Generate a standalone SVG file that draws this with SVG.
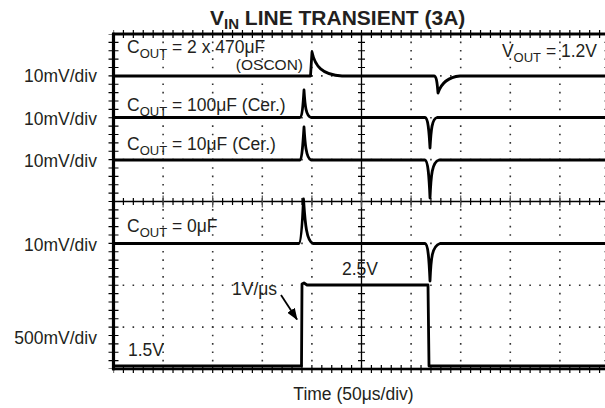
<svg xmlns="http://www.w3.org/2000/svg" width="605" height="408" viewBox="0 0 605 408">
<defs>
<style>
text{font-family:"Liberation Sans",Arial,sans-serif;fill:#231f20;font-size:17.5px}
.title{font-weight:bold;font-size:21px}
.sub{font-size:13px}
.tsub{font-size:15px}
.small{font-size:15.5px}
.frame{fill:none;stroke:#000;stroke-width:2.6}
.border{fill:none;stroke:#000}
.axis{stroke:#000;stroke-width:1.3;fill:none}
.vdot{stroke:#333;stroke-width:1.6;stroke-dasharray:1.6 6.775;stroke-dashoffset:0.8;fill:none}
.hdot{stroke:#333;stroke-width:1.6;stroke-dasharray:1.6 8.32;stroke-dashoffset:0.8;fill:none}
.vtick{stroke:#000;stroke-dasharray:1.2 7.175;stroke-dashoffset:0.6;fill:none}
.htick{stroke:#000;stroke-dasharray:1.2 8.72;stroke-dashoffset:0.6;fill:none}
.trace{fill:none;stroke:#000;stroke-width:2.8;stroke-linejoin:round;stroke-linecap:round}
.arrow{stroke:#000;stroke-width:1.8;fill:none}
</style>
<marker id="ah" viewBox="0 0 12 9" refX="11" refY="4.5" markerWidth="12" markerHeight="9" markerUnits="userSpaceOnUse" orient="auto">
<path d="M0,0 L12,4.5 L0,9 Z" fill="#000"/>
</marker>
</defs>
<rect width="605" height="408" fill="#fff"/>

<g id="title">
<text class="title" x="210" y="25">V<tspan class="tsub" dy="4">IN</tspan><tspan dy="-4"> LINE TRANSIENT (3A)</tspan></text>
</g>

<g id="grid">
<path class="vdot" d="M163.1,34V369M212.7,34V369M262.3,34V369M311.9,34V369M411.1,34V369M460.7,34V369M510.3,34V369M559.9,34V369"/>
<path class="hdot" d="M113.5,75.9H609.5M113.5,117.75H609.5M113.5,159.6H609.5M113.5,243.4H609.5M113.5,285.25H609.5M113.5,327.1H609.5"/>
<path class="axis" d="M361.5,34V369M113.5,201.5H609.5"/>
<path class="vtick" stroke-width="7" d="M361.5,34V369"/>
<path class="htick" stroke-width="7" d="M113.5,201.5H609.5"/>
<path stroke="#555" stroke-width="12" stroke-dasharray="1.2 48.4" stroke-dashoffset="0.6" fill="none" d="M113.5,201.5H609.5"/>
<path class="vtick" stroke-width="10" d="M113.5,34V369"/>
<path class="htick" stroke-width="8" d="M113.5,34H609.5"/>
<path class="htick" stroke-width="8" d="M113.5,369H609.5"/>
<path class="vtick" stroke-width="10" d="M609.5,34V369"/>
<rect class="frame" x="113.5" y="34" width="496" height="335"/>
<path class="border" stroke-width="2.4" d="M112.5,34H606"/>
<path class="border" stroke-width="3.2" d="M113.5,32.7V370.3"/>
</g>

<g id="scale-labels" text-anchor="end">
<text x="97" y="82">10mV/div</text>
<text x="97" y="125">10mV/div</text>
<text x="97" y="167">10mV/div</text>
<text x="97" y="251">10mV/div</text>
<text x="97" y="344">500mV/div</text>
</g>

<g id="trace-oscon">
<path class="trace" d="M113.5,76 H310.5 L312,52 C315,66 322,75 342,76 H434 C436,76 437,80 438,93 C441,84 448,77 460,76 H612"/>
<text x="127" y="53">C<tspan class="sub" dy="5">OUT</tspan><tspan dy="-5"> = 2 x 470μF</tspan></text>
<text class="small" x="303" y="70" text-anchor="end">(OSCON)</text>
<text x="597" y="57" text-anchor="end">V<tspan class="sub" dy="5">OUT</tspan><tspan dy="-5"> = 1.2V</tspan></text>
</g>

<g id="trace-100uF">
<path class="trace" d="M113.5,117.5 H300 C302,117 303,106 304,90 C305,106 306,116 311,117.5 H425 C428,118 429,130 430,148 C431,130 432,118.5 437,117.5 H612"/>
<text x="127" y="111">C<tspan class="sub" dy="5">OUT</tspan><tspan dy="-5"> = 100μF (Cer.)</tspan></text>
</g>

<g id="trace-10uF">
<path class="trace" d="M113.5,160 H300 C302,159 303,143 304,127 C305,143 306,158 311,160 H425 C428,161 429,175 430,198 C431,175 432,162 439,160 H612"/>
<text x="127" y="150">C<tspan class="sub" dy="5">OUT</tspan><tspan dy="-5"> = 10μF (Cer.)</tspan></text>
</g>

<g id="trace-0uF">
<path class="trace" d="M113.5,243.5 H299 C301,243 302.5,220 303.5,199 C305,220 306,241 313,243.5 H425 C428,244 429,258 430,281 C431,258 432,246 440,243.5 H612"/>
<text x="127" y="232">C<tspan class="sub" dy="5">OUT</tspan><tspan dy="-5"> = 0μF</tspan></text>
</g>

<g id="trace-vin">
<path class="trace" d="M113.5,366 H301.5 L302,284 L304,283 L307,285 H428 L429,366 H612"/>
<text x="342" y="275">2.5V</text>
<text x="128" y="356">1.5V</text>
<text x="232" y="295">1V/μs</text>
</g>

<g id="connectors">
<path class="arrow" d="M281,295 L297,319.5" marker-end="url(#ah)"/>
</g>

<g id="x-label">
<text x="353.5" y="400" text-anchor="middle">Time (50μs/div)</text>
</g>
</svg>
